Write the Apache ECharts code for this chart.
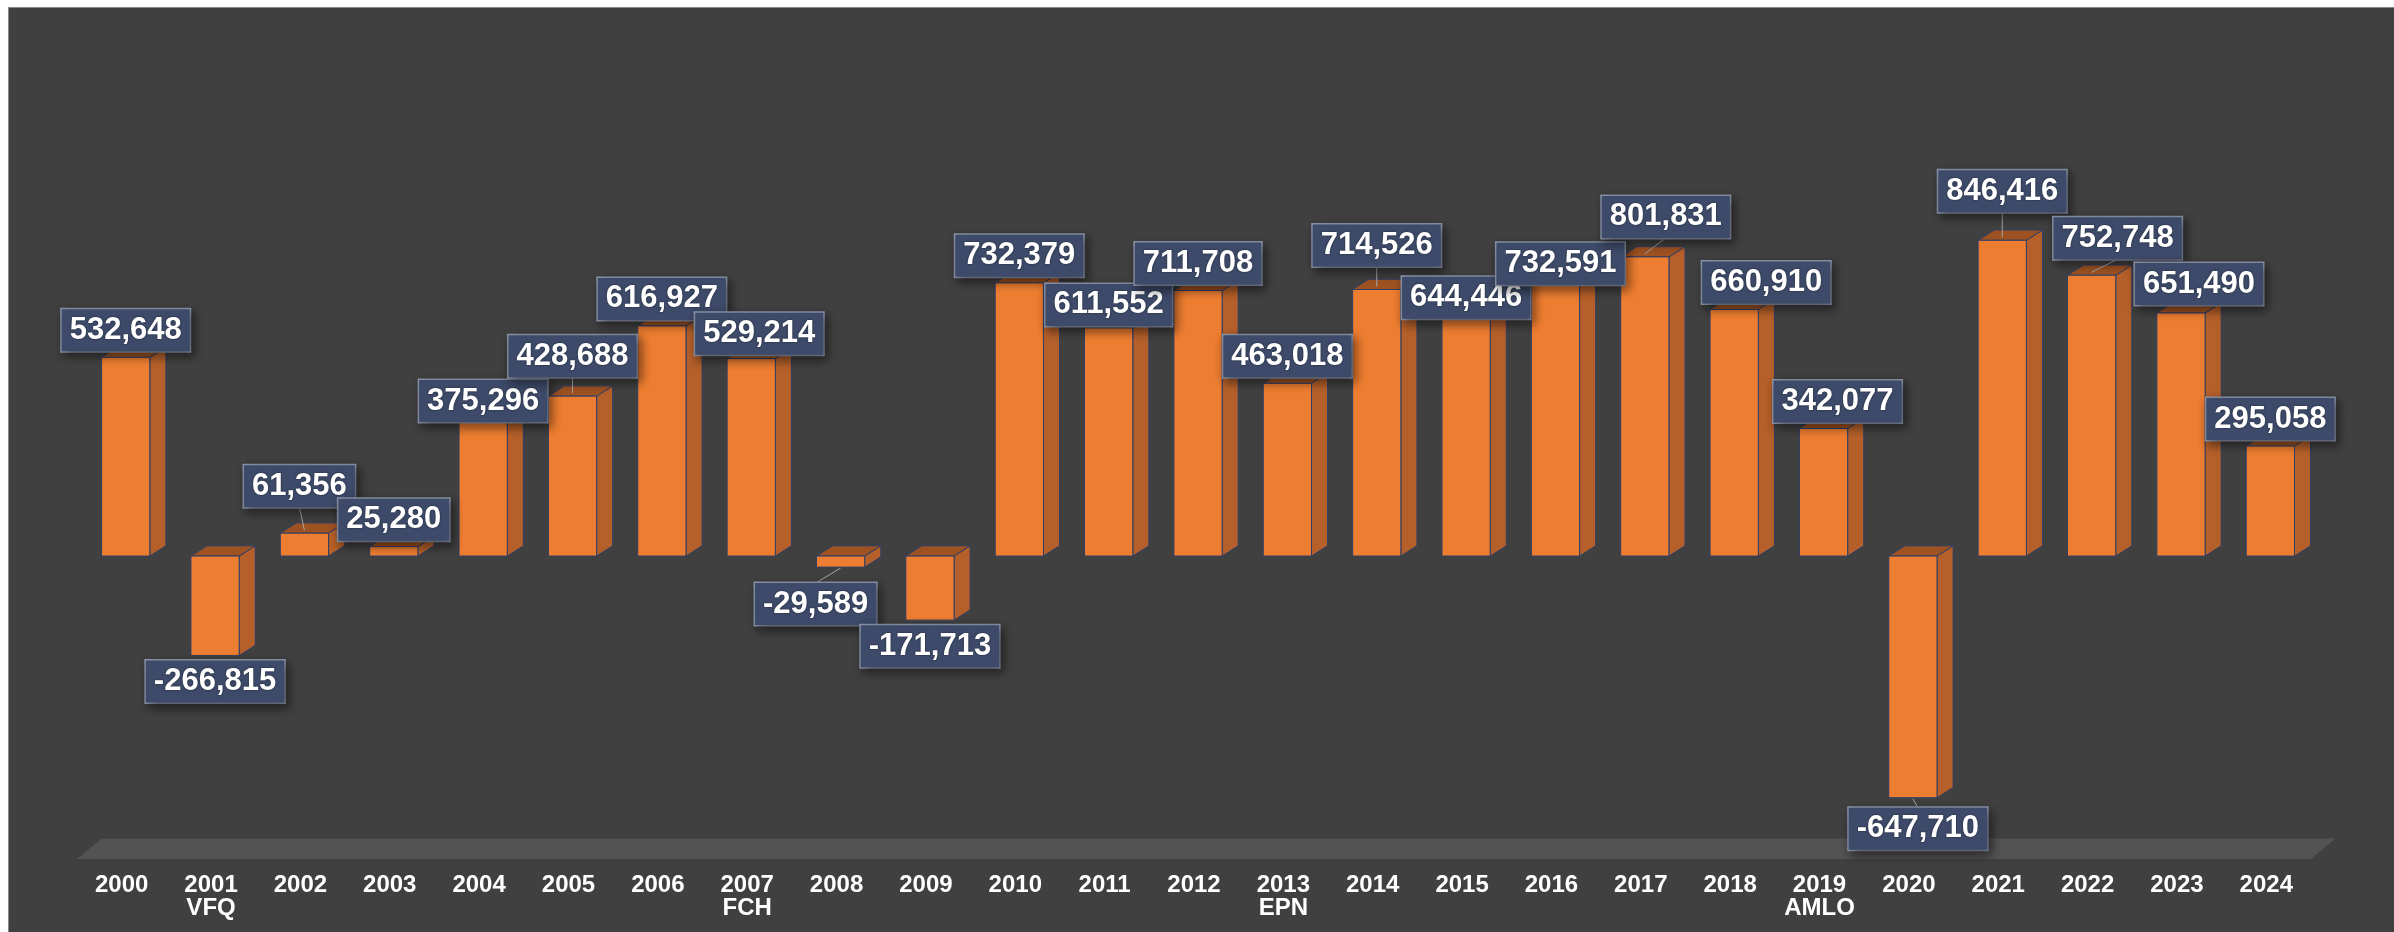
<!DOCTYPE html>
<html>
<head>
<meta charset="utf-8">
<title>Empleo formal por año</title>
<script src="https://cdn.jsdelivr.net/npm/echarts@6.0.0/dist/echarts.min.js"></script>
<style>
    html, body { margin: 0; padding: 0; background: #ffffff; overflow: hidden; }
    #panel {
        position: absolute; left: 8px; top: 7px; width: 2400px; height: 940px;
        background: #404040; border-top: 1px solid #8a8a8a; border-left: 1px solid #8a8a8a;
    }
    #echart1 { position: absolute; left: 0; top: 0; width: 2394px; height: 932px; }
</style>
</head>
<body>
<div id="panel"></div>
<div id="echart1"></div>
<script>
// datos
var years = ['2000', '2001', '2002', '2003', '2004', '2005', '2006', '2007', '2008', '2009',
    '2010', '2011', '2012', '2013', '2014', '2015', '2016', '2017', '2018', '2019',
    '2020', '2021', '2022', '2023', '2024'];
var values = [532648, -266815, 61356, 25280, 375296, 428688, 616927, 529214, -29589, -171713,
    732379, 611552, 711708, 463018, 714526, 644446, 732591, 801831, 660910, 342077,
    -647710, 846416, 752748, 651490, 295058];
var terms = { '2001': 'VFQ', '2007': 'FCH', '2013': 'EPN', '2019': 'AMLO' };

// etiquetas movidas a mano (como en el original), en px
var labelShift = {
    '2002': [-5, -20], '2004': [0, 12], '2005': [0, -13], '2007': [8, 2], '2008': [-25, 11],
    '2011': [0, 4], '2014': [0, -17], '2015': [0, 9], '2016': [5, 8], '2017': [21, -13],
    '2018': [32, 0], '2019': [14, 0], '2020': [5, 5], '2021': [0, -22], '2022': [26, -10],
    '2023': [18, -2]
};
var leaders = ['2002', '2005', '2008', '2014', '2017', '2020', '2021', '2022'];

function echarts_1() {
    var myChart = echarts.init(document.getElementById('echart1'));

    function renderBar(params, api) {
        var i = api.value(0);
        var v = api.value(1);
        var base = api.coord([i, 0]);
        var end = api.coord([i, v]);
        var band = api.size([1, 0])[0];
        var w = band * 0.54, d = band * 0.18, h = band * 0.115;
        var cx = base[0] + band * 0.045;
        var x0 = cx - w / 2, x1 = cx + w / 2;
        var yTop = Math.min(base[1], end[1]);
        var yBot = Math.max(base[1], end[1]);
        var edge = '#2f3f66';
        var children = [];

        // piso 3D
        if (params.dataIndex === 0) {
            var cs = params.coordSys;
            var yb = cs.y + cs.height;
            children.push({
                type: 'polygon', z2: -10,
                shape: { points: [[cs.x, yb], [cs.x + 24.5, yb - 20.5], [cs.x + cs.width + 24.5, yb - 20.5], [cs.x + cs.width, yb]] },
                style: { fill: '#545353' }
            });
        }

        children.push({
            type: 'polygon',
            shape: { points: [[x1, yTop], [x1 + d, yTop - h], [x1 + d, yBot - h], [x1, yBot]] },
            style: { fill: '#b5602a', stroke: edge, lineWidth: 1 }
        });
        children.push({
            type: 'polygon',
            shape: { points: [[x0, yTop], [x0 + d, yTop - h], [x1 + d, yTop - h], [x1, yTop]] },
            style: { fill: '#9e5222', stroke: edge, lineWidth: 1 }
        });
        children.push({
            type: 'rect',
            shape: { x: x0, y: yTop, width: w, height: yBot - yTop },
            style: { fill: '#ed7d31', stroke: edge, lineWidth: 1 }
        });

        // etiqueta de valor
        var yr = years[params.dataIndex];
        var sh = labelShift[yr] || [0, 0];
        var lx = cx + sh[0];
        var ly = (v >= 0 ? yTop - 27 : yBot + 26) + sh[1];
        if (leaders.indexOf(yr) >= 0) {
            var ly2 = v >= 0 ? ly + 21 : ly - 21;
            children.push({
                type: 'line', z2: 50,
                shape: { x1: lx, y1: ly2, x2: cx, y2: v >= 0 ? yTop - 3 : yBot + 1 },
                style: { stroke: '#a6a6a6', lineWidth: 1 }
            });
        }
        children.push({
            type: 'text', z2: 100,
            x: lx, y: ly,
            style: {
                text: v.toLocaleString('en-US'),
                fill: '#ffffff',
                fontFamily: 'Liberation Sans, Arial, sans-serif',
                fontWeight: 'bold',
                fontSize: 31,
                align: 'center',
                verticalAlign: 'middle',
                backgroundColor: '#3d4a69',
                borderColor: '#8d96ab',
                borderWidth: 1.5,
                padding: [6, 8, 5, 8],
                shadowColor: 'rgba(0,0,0,0.45)',
                shadowBlur: 10,
                shadowOffsetX: 3,
                shadowOffsetY: 4,
                textShadowColor: 'rgba(0,0,0,0.6)',
                textShadowBlur: 2
            }
        });

        return { type: 'group', children: children };
    }

    option = {
        animation: false,
        grid: {
            left: 77,
            right: 83,
            top: 183,
            bottom: 73
        },
        xAxis: {
            type: 'category',
            data: years,
            axisLine: { show: false },
            axisTick: { show: false },
            axisLabel: {
                interval: 0,
                margin: 15,
                color: '#ffffff',
                fontFamily: 'Liberation Sans, Arial, sans-serif',
                fontWeight: 'bold',
                fontSize: 24,
                lineHeight: 23,
                formatter: function (val) {
                    return terms[val] ? val + '\n' + terms[val] : val;
                }
            }
        },
        yAxis: {
            type: 'value',
            min: -812000,
            max: 1000000,
            show: false,
            splitLine: { show: false }
        },
        series: [{
            type: 'custom',
            renderItem: renderBar,
            clip: false,
            encode: { x: 0, y: 1 },
            data: values.map(function (v, i) { return [i, v]; })
        }]
    };

    myChart.setOption(option);
    window.addEventListener("resize", function () {
        myChart.resize();
    });
}

echarts_1();
</script>
</body>
</html>
